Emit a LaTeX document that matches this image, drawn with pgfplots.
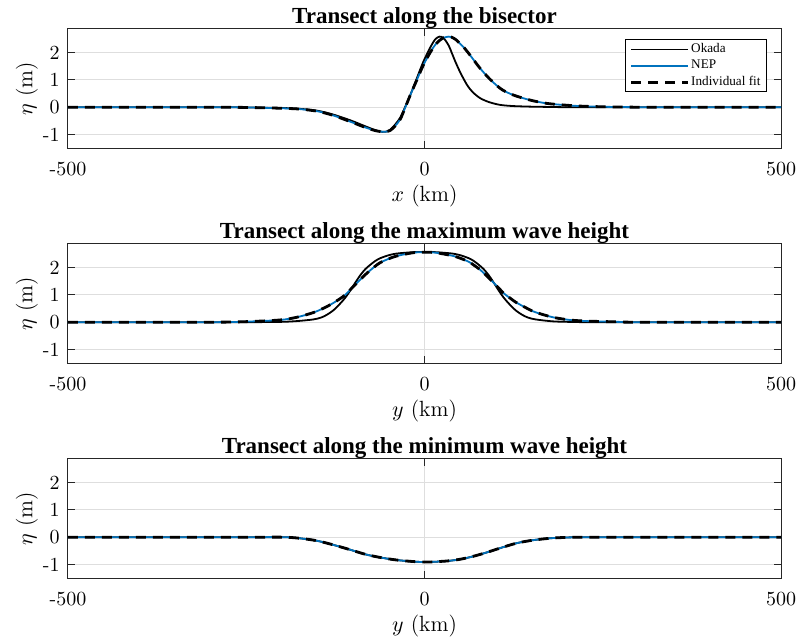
\documentclass[border=0pt]{standalone}
\usepackage{fontspec}
\usepackage{pgfplots}
\usepackage{pgfplotstable}
\pgfplotsset{compat=1.18}
\newfontfamily\tnr{Liberation Serif}
\definecolor{nepblue}{RGB}{0,114,189}
\definecolor{axgray}{RGB}{38,38,38}

% x  okada  nep  (fit = nep)
\pgfplotstableread{
x okada nep
-500 0 0
-400 0 0
-300 0 0
-250 -0.01 -0.01
-200 -0.03 -0.04
-175 -0.06 -0.07
-150 -0.13 -0.15
-128 -0.27 -0.30
-104 -0.48 -0.53
-81 -0.72 -0.76
-70 -0.83 -0.85
-62 -0.89 -0.89
-55 -0.90 -0.90
-48 -0.82 -0.85
-41 -0.63 -0.68
-34 -0.38 -0.44
-27 0.02 -0.01
-20 0.44 0.44
-11 1.04 0.98
-2 1.64 1.52
8 2.18 2.00
15 2.48 2.28
21 2.58 2.44
27 2.52 2.54
34 2.25 2.58
38 2.00 2.56
44 1.62 2.47
50 1.28 2.32
56 0.98 2.16
61 0.76 2.00
68 0.54 1.76
78 0.33 1.42
90 0.19 1.07
101 0.11 0.80
110 0.07 0.62
125 0.04 0.44
148 0.02 0.26
171 0.01 0.14
195 0 0.08
218 0 0.04
250 0 0.015
300 0 0
400 0 0
500 0 0
}\bisector

\pgfplotstableread{
x okada nep
-500 0 0
-300 0 0
-250 0 0.02
-203 0.01 0.08
-179 0.04 0.18
-156 0.10 0.35
-145 0.17 0.47
-137 0.27 0.57
-128 0.43 0.70
-119 0.66 0.85
-111 0.90 1.00
-104 1.16 1.19
-97 1.45 1.38
-90 1.72 1.56
-83 1.94 1.74
-76 2.10 1.90
-69 2.24 2.05
-62 2.34 2.18
-50 2.45 2.32
-39 2.51 2.42
-16 2.56 2.54
0 2.57 2.56
16 2.56 2.54
39 2.51 2.43
50 2.45 2.34
62 2.34 2.21
69 2.24 2.09
76 2.10 1.96
83 1.94 1.80
90 1.72 1.62
97 1.45 1.44
104 1.16 1.25
111 0.90 1.06
119 0.66 0.90
128 0.43 0.73
137 0.27 0.60
145 0.17 0.49
156 0.10 0.36
180 0.03 0.18
204 0.01 0.08
227 0 0.04
274 0 0.01
300 0 0
500 0 0
}\maxheight

\pgfplotstableread{
x okada nep
-500 0 0
-250 0 0
-198 0 0
-175 -0.04 -0.04
-151 -0.13 -0.13
-128 -0.28 -0.28
-104 -0.46 -0.46
-81 -0.64 -0.64
-58 -0.76 -0.76
-34 -0.85 -0.85
0 -0.91 -0.91
36 -0.86 -0.86
59 -0.76 -0.76
82 -0.60 -0.60
106 -0.40 -0.40
129 -0.22 -0.22
152 -0.11 -0.11
176 -0.04 -0.04
199 -0.01 -0.01
250 0 0
500 0 0
}\minheight

\pgfplotsset{
  panel/.style={
    scale only axis, width=356.5pt, height=59.75pt,
    xmin=-500, xmax=500, ymin=-1.5, ymax=2.87,
    xtick={-500,0,500}, xticklabels={-500,0,500},
    ytick={-1,0,1,2}, yticklabels={-1,0,1,2},
    tick align=inside, major tick length=3.5pt,
    xmajorgrids, ymajorgrids,
    grid style={line width=0.5pt, black!13},
    axis line style={line width=0.5pt, axgray},
    every tick/.style={line width=0.5pt, axgray},
    xticklabel style={font=\fontsize{10}{12}\selectfont, anchor=base, inner sep=0pt, yshift=-13.5pt},
    yticklabel style={font=\fontsize{10}{12}\selectfont, anchor=east, inner sep=0pt, xshift=-4pt},
    ylabel={$\eta$ (m)},
    ylabel style={font=\fontsize{11}{13}\selectfont, at={(axis description cs:-0.0575,0.5)}, anchor=center},
    xlabel style={font=\fontsize{11}{13}\selectfont, at={(axis description cs:0.5,-0.4435)}, anchor=base},
    title style={font=\tnr\bfseries\fontsize{11.5}{13}\selectfont, at={(axis description cs:0.5,1)}, anchor=base, yshift=-3.3pt},
    okada/.style={black, line width=0.9pt, smooth},
    nep/.style={nepblue, line width=0.9pt, smooth},
    fit/.style={black, line width=1.4pt, dash pattern=on 5pt off 3.5pt, smooth},
  },
}

\begin{document}
\begin{tikzpicture}
\path[use as bounding box] (-34pt,-246.85pt) rectangle (365pt,74.1pt);

\begin{axis}[panel, at={(0,0)},
  title={Transect along the bisector}, xlabel={$x$ (km)},
  legend style={at={(1,1)}, anchor=north east, xshift=-7.2pt, yshift=-5.3pt,
    draw=black, line width=0.5pt, fill=white,
    font=\tnr\fontsize{6.6}{7}\selectfont,
    inner xsep=2pt, inner ysep=1pt, row sep=0.6pt,
    nodes={inner sep=0.8pt}, cells={anchor=west}},
  legend image code/.code={\draw[#1] (0pt,0pt) -- (28.5pt,0pt);},
]
\addplot[okada] table[x=x, y=okada] {\bisector};
\addplot[nep] table[x=x, y=nep] {\bisector};
\addplot[fit] table[x=x, y=nep] {\bisector};
\legend{Okada, NEP, Individual fit}
\end{axis}

\begin{axis}[panel, at={(0,-107.5pt)},
  title={Transect along the maximum wave height}, xlabel={$y$ (km)}]
\addplot[okada] table[x=x, y=okada] {\maxheight};
\addplot[nep] table[x=x, y=nep] {\maxheight};
\addplot[fit] table[x=x, y=nep] {\maxheight};
\end{axis}

\begin{axis}[panel, at={(0,-215pt)},
  title={Transect along the minimum wave height}, xlabel={$y$ (km)}]
\addplot[okada] table[x=x, y=okada] {\minheight};
\addplot[nep] table[x=x, y=nep] {\minheight};
\addplot[fit] table[x=x, y=nep] {\minheight};
\end{axis}
\end{tikzpicture}
\end{document}
